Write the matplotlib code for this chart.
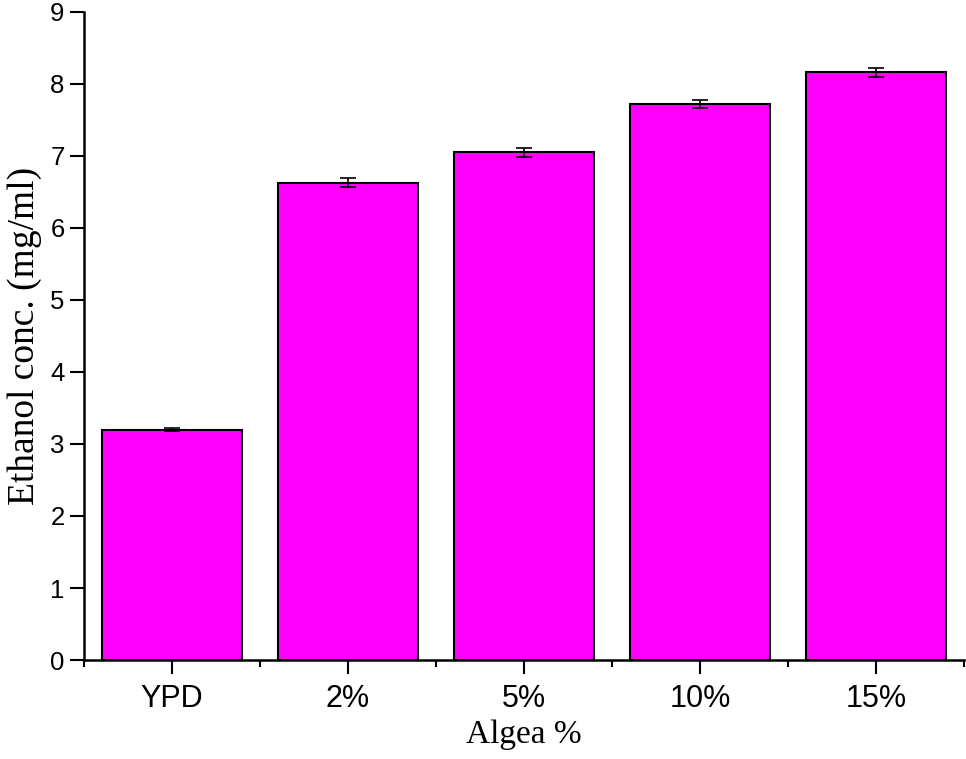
import numpy as np
import matplotlib.pyplot as plt
from matplotlib.ticker import MultipleLocator

categories = ["YPD", "2%", "5%", "10%", "15%"]
ethanol = [3.20, 6.63, 7.05, 7.72, 8.16]
errors = [0.02, 0.06, 0.06, 0.06, 0.065]

fig = plt.figure(figsize=(9.66, 7.59), dpi=100)
ax = fig.add_axes([0.087, 0.1304, 0.911, 0.854])

x = np.arange(len(categories))
ax.bar(x, ethanol, 0.8, color="#FF00FF", edgecolor="black", linewidth=1.5, zorder=2)
ax.errorbar(x, ethanol, yerr=errors, fmt="none", ecolor="black",
            elinewidth=1.2, capsize=6, capthick=1.2, zorder=3)

ax.set_xlim(-0.5, 4.5)
ax.set_ylim(0, 9)
ax.set_xticks(x)
ax.set_xticklabels(categories, fontfamily="Liberation Sans", fontsize=22)
ax.xaxis.set_minor_locator(MultipleLocator(1, offset=0.5))
ax.yaxis.set_major_locator(MultipleLocator(1))
for lab in ax.get_yticklabels():
    lab.set_fontfamily("Liberation Sans")
ax.tick_params(axis="y", labelsize=18.5, length=10, width=1.5, direction="out", pad=4)
ax.tick_params(axis="x", which="major", length=10, width=1.5, direction="out", pad=7)
ax.tick_params(axis="x", which="minor", length=5, width=1.5, direction="out")

for side in ["top", "right"]:
    ax.spines[side].set_visible(False)
for side in ["left", "bottom"]:
    ax.spines[side].set_linewidth(1.8)

ax.set_xlabel("Algea %", fontfamily="Liberation Serif", fontsize=24, labelpad=4)
ax.set_ylabel("Ethanol conc. (mg/ml)", fontfamily="Liberation Serif", fontsize=27, labelpad=6)

fig.savefig("out.png", dpi=100)
